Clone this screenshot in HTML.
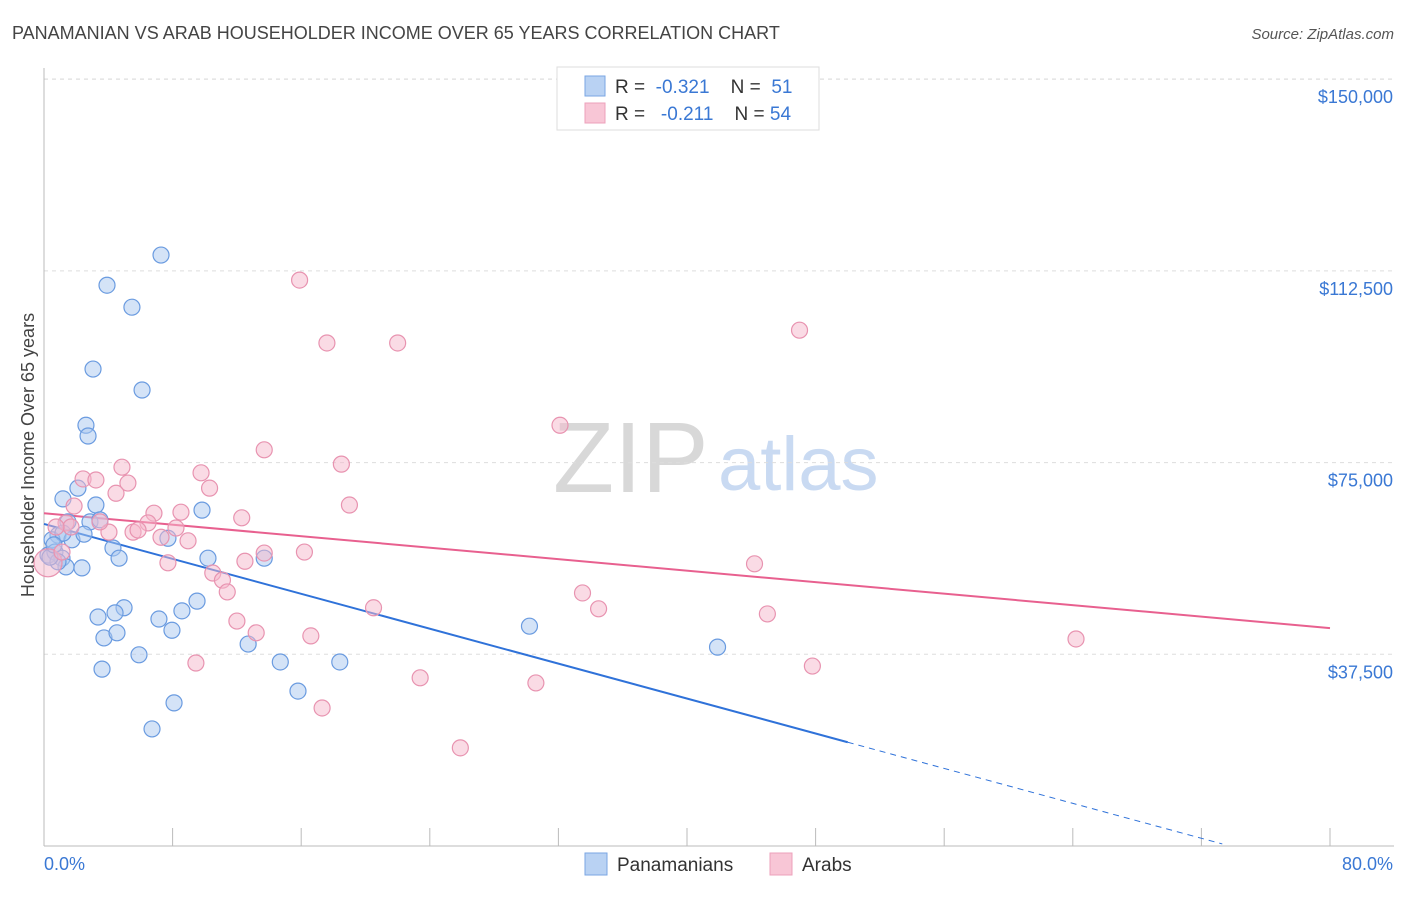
<!DOCTYPE html>
<html><head><meta charset="utf-8"><style>
body{margin:0;background:#fff;font-family:"Liberation Sans",sans-serif;}
svg text{font-family:"Liberation Sans",sans-serif;white-space:pre;}
</style></head><body>
<svg id="chart" width="1406" height="892" xmlns="http://www.w3.org/2000/svg">
<text x="12" y="39" font-size="18" fill="#444">PANAMANIAN VS ARAB HOUSEHOLDER INCOME OVER 65 YEARS CORRELATION CHART</text>
<text x="1394" y="39" font-size="15" fill="#555" font-style="italic" text-anchor="end">Source: ZipAtlas.com</text>
<g>
<text x="553" y="492" font-size="100" fill="#d8d8d8" font-family="Liberation Serif">ZIP</text>
<text x="718" y="490" font-size="76" fill="#c9daf2">atlas</text>
</g>
<g id="grid"></g>
<g id="axes"></g>
<g id="lines"></g>
<g id="points"></g>
<text x="34" y="455" font-size="18" fill="#444" text-anchor="middle" transform="rotate(-90 34 455)">Householder Income Over 65 years</text>
<text x="44" y="870" font-size="18" fill="#3a78d4">0.0%</text>
<text x="1393" y="870" font-size="18" fill="#3a78d4" text-anchor="end">80.0%</text>
<g>
<rect x="557" y="67" width="262" height="63" fill="#fff" stroke="#ddd"/>
<rect x="585" y="76" width="20" height="20" fill="#b9d2f3" stroke="#7aa6e3"/>
<rect x="585" y="103" width="20" height="20" fill="#f8c6d6" stroke="#eda0bb"/>
<text x="615" y="93" font-size="19" fill="#333">R =  <tspan fill="#3a78d4">-0.321</tspan>    N =  <tspan fill="#3a78d4">51</tspan></text>
<text x="615" y="120" font-size="19" fill="#333">R =  <tspan fill="#3a78d4"> -0.211</tspan>    N = <tspan fill="#3a78d4">54</tspan></text>
</g>
<g>
<rect x="585" y="853" width="22" height="22" fill="#b9d2f3" stroke="#7aa6e3"/>
<text x="617" y="871" font-size="19" fill="#333">Panamanians</text>
<rect x="770" y="853" width="22" height="22" fill="#f8c6d6" stroke="#eda0bb"/>
<text x="802" y="871" font-size="19" fill="#333">Arabs</text>
</g>
</svg>
<script>
const yTicks=[37500,75000,112500,150000];
const yTickLabels=["$37,500","$75,000","$112,500","$150,000"];
const xTicks=[0,8,16,24,32,40,48,56,64,72,80];
const panX=[7.28,3.92,5.47,3.05,6.10,2.61,2.74,1.18,2.11,3.23,9.83,2.86,1.49,0.87,1.74,2.49,0.50,0.25,0.68,1.12,4.29,4.67,10.2,13.7,2.36,1.37,0.87,0.37,4.98,3.36,4.42,7.15,8.58,9.52,7.96,3.73,4.54,5.91,12.7,3.61,14.7,18.4,15.8,8.09,6.72,30.2,41.9,7.71,1.18,3.48,0.62];
const panY=[115600,109700,105400,93300,89200,82300,80200,67900,70000,66700,65700,63400,63400,60800,59900,61000,59900,56900,57500,56300,58300,56300,56300,56300,54400,54600,55600,56500,46600,44800,45600,44400,46000,47900,42200,40700,41700,37400,39500,34600,36000,36000,30300,28000,22900,43000,38900,60200,61200,63800,58900];
const arbX=[15.9,17.6,22.0,47.0,32.1,13.7,18.5,4.85,2.43,9.77,3.23,5.22,10.3,4.48,1.87,19.0,6.84,8.52,12.3,6.47,1.37,1.68,8.21,4.04,5.54,5.85,7.28,8.96,7.71,12.5,13.7,16.2,10.5,11.1,11.4,33.5,20.5,34.5,45.0,12.0,13.2,16.6,64.2,9.45,47.8,23.4,30.6,17.3,25.9,44.2,0.25,1.12,3.48,0.75];
const arbY=[110700,98400,98400,100900,82300,77500,74700,74100,71800,73000,71600,71000,70000,69000,66500,66700,65100,65300,64200,63200,63200,62400,62200,61400,61400,61800,60400,59700,55400,55700,57300,57500,53400,52000,49700,49500,46600,46400,45400,44000,41700,41100,40500,35800,35200,32900,31900,27000,19200,55200,55400,57500,63400,62400];
const panTrend=[63000,-854];
const arbTrend=[65100,-281];
const NS="http://www.w3.org/2000/svg";
const X=v=>44+v*(1286/80);
const Y=v=>846-v*(191.7/37500);
function mk(tag,attrs,parent){const e=document.createElementNS(NS,tag);for(const k in attrs)e.setAttribute(k,attrs[k]);document.getElementById(parent).appendChild(e);return e;}
yTicks.forEach((t,i)=>{
 const g=mk('line',{x1:44,x2:1394,y1:Y(t),y2:Y(t),stroke:'#ddd','stroke-dasharray':'4,4'},'grid');
 
 
 const l=mk('text',{x:1393,y:Y(t)+24,'font-size':18,fill:'#3a78d4','text-anchor':'end'},'axes');
 l.textContent=yTickLabels[i];
 
 
});
const topGrid=mk('line',{x1:44,x2:1394,y1:79,y2:79,stroke:'#ddd','stroke-dasharray':'4,4'},'grid');


const ya=mk('line',{x1:44,x2:44,y1:68,y2:846,stroke:'#bbb'},'axes');


const xa=mk('line',{x1:44,x2:1394,y1:846,y2:846,stroke:'#bbb'},'axes');


xTicks.forEach(t=>{
 const k=mk('line',{x1:X(t),x2:X(t),y1:828,y2:846,stroke:'#bbb'},'axes');
 
 
});
function pts(xs,ys,fill,stroke,name){
 xs.forEach((x,i)=>{
  const big=(name==='arab-point'&&i===50);
  const c=mk('circle',{cx:X(x),cy:Y(ys[i]),r:big?14:8,fill:fill,'fill-opacity':0.5,stroke:stroke,'stroke-width':1.2},'points');
  
  
 });
}
pts(panX,panY,'#a9c8f0','#6a9be0','panamanian-point');
pts(arbX,arbY,'#f5b8cc','#e893b0','arab-point');
const f=(tr,x)=>tr[0]+tr[1]*x;
const b1=mk('line',{x1:X(0),y1:Y(f(panTrend,0)),x2:X(50),y2:Y(f(panTrend,50)),stroke:'#2f72d9','stroke-width':2},'lines');


const b2=mk('line',{x1:X(50),y1:Y(f(panTrend,50)),x2:X(73.3),y2:Y(f(panTrend,73.3)),stroke:'#2f72d9','stroke-width':1,'stroke-dasharray':'6,5'},'lines');


const p1=mk('line',{x1:X(0),y1:Y(f(arbTrend,0)),x2:X(80),y2:Y(f(arbTrend,80)),stroke:'#e8608f','stroke-width':2},'lines');


</script>
</body></html>
